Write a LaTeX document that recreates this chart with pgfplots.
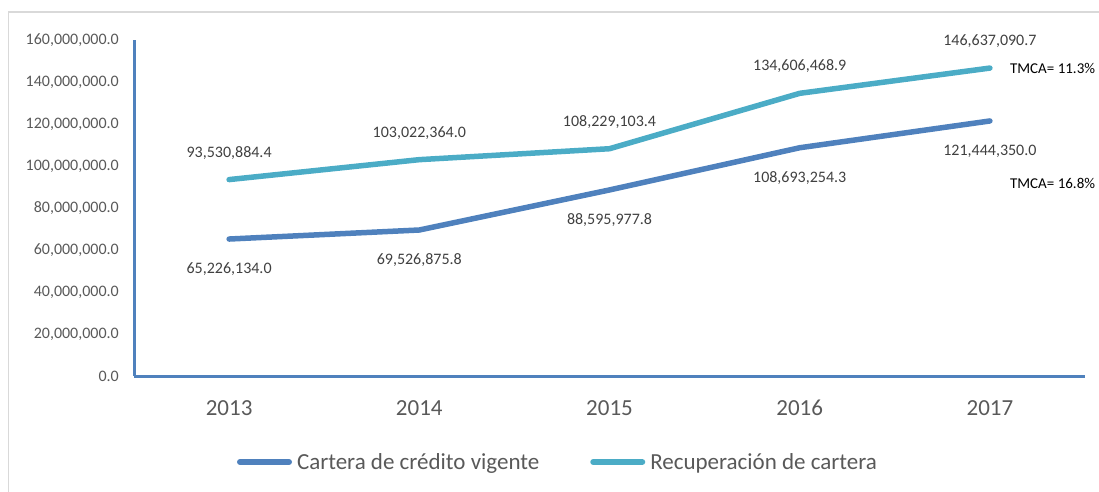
\documentclass[border=0pt]{standalone}
\usepackage{fontspec}
\setmainfont{Carlito}
\usepackage{pgfplots}
\usepackage{pgfplotstable}
\pgfplotsset{compat=1.18}
\definecolor{cone}{HTML}{4F81BD}
\definecolor{ctwo}{HTML}{4BACC6}
\definecolor{tgray}{HTML}{595959}
\definecolor{lgray}{HTML}{404040}
\definecolor{fgray}{HTML}{D9D9D9}

\pgfplotstableread{
x y lab
0 65226134.0 65,226,134.0
1 69526875.8 69,526,875.8
2 88595977.8 88,595,977.8
3 108693254.3 108,693,254.3
4 121444350.0 121,444,350.0
}\cartera

\pgfplotstableread{
x y lab
0 93530884.4 93,530,884.4
1 103022364.0 103,022,364.0
2 108229103.4 108,229,103.4
3 134606468.9 134,606,468.9
4 146637090.7 146,637,090.7
}\recup

\begin{document}
\begin{tikzpicture}
\useasboundingbox (0pt,0pt) rectangle (1099pt,491pt);
\draw[fgray, line width=1.2pt] (8.5pt,-5pt) -- (8.5pt,479pt) -- (1110pt,479pt);
\begin{axis}[
  at={(134pt,115pt)}, anchor=south west,
  scale only axis, width=951pt, height=336pt,
  xmin=-0.5, xmax=4.5, ymin=0, ymax=160000000,
  axis x line*=bottom, axis y line*=left,
  axis line style={cone, line width=3pt},
  clip=false,
  major tick length=0pt,
  tick style={draw=none},
  scaled y ticks=false,
  xtick={0,1,2,3,4},
  xticklabels={2013,2014,2015,2016,2017},
  ytick={0,20000000,40000000,60000000,80000000,100000000,120000000,140000000,160000000},
  yticklabels={{0.0},{20,000,000.0},{40,000,000.0},{60,000,000.0},{80,000,000.0},{100,000,000.0},{120,000,000.0},{140,000,000.0},{160,000,000.0}},
  yticklabel style={anchor=east, inner sep=0pt, xshift=-15pt, text=tgray, font=\fontsize{16}{19}\selectfont},
  xticklabel style={anchor=north, inner sep=0pt, yshift=-24pt, text=tgray, font=\fontsize{23}{27}\selectfont},
  legend columns=2,
  legend style={at={(0.1083,-0.256)}, anchor=west, draw=none, fill=none,
    inner sep=0pt, outer sep=0pt, column sep=0pt,
    nodes={inner sep=5pt, text=tgray, font=\fontsize{23}{27}\selectfont},
    /tikz/every even column/.append style={column sep=46pt}},
  legend image code/.code={\draw[#1, line width=6pt, line cap=round] (0pt,0pt) -- (49pt,0pt);},
]
\addplot[cone, line width=5.5pt, line cap=round, line join=round,
  nodes near coords, point meta=explicit symbolic,
  every node near coord/.append style={anchor=center, yshift=-30pt, inner sep=0pt, text=lgray, font=\fontsize{16}{19}\selectfont}]
  table[x=x, y=y, meta=lab] {\cartera};
\addlegendentry{Cartera de crédito vigente}
\addplot[ctwo, line width=5.5pt, line cap=round, line join=round,
  nodes near coords, point meta=explicit symbolic,
  every node near coord/.append style={anchor=center, yshift=27pt, inner sep=0pt, text=lgray, font=\fontsize{16}{19}\selectfont}]
  table[x=x, y=y, meta=lab] {\recup};
\addlegendentry{Recuperación de cartera}
\node[anchor=west, inner sep=0pt, font=\fontsize{15}{18}\selectfont, text=black] at (axis cs:4,146637090.7) [xshift=20pt] {TMCA= 11.3\%};
\node[anchor=west, inner sep=0pt, font=\fontsize{15}{18}\selectfont, text=black] at (axis cs:4,91900000) [xshift=20pt] {TMCA= 16.8\%};
\end{axis}
\end{tikzpicture}
\end{document}
